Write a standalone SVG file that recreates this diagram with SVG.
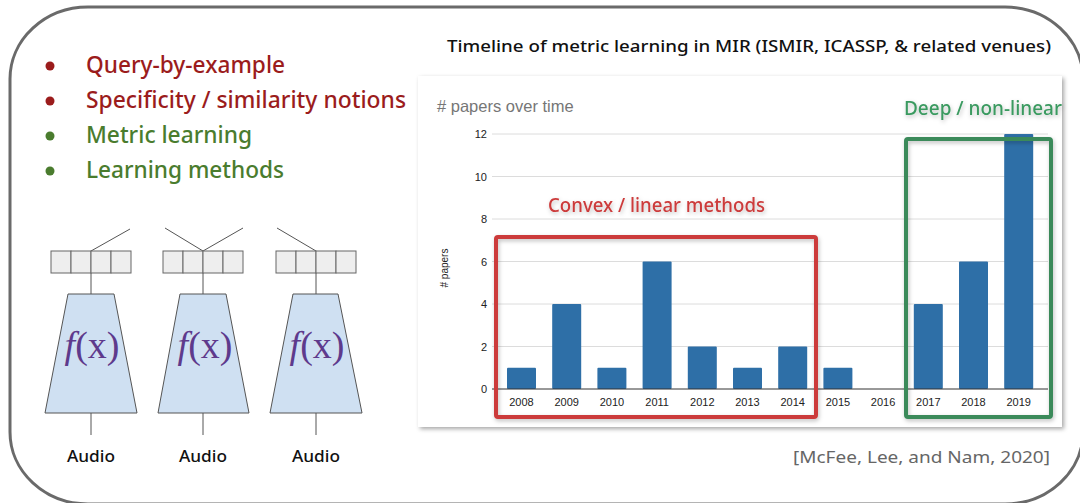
<svg xmlns="http://www.w3.org/2000/svg" width="1080" height="503" viewBox="0 0 1080 503">
  <style>
    .slide { font-family: "Noto Sans", "Open Sans", "Liberation Sans", sans-serif; font-weight: 500; }
    .bullet-red { fill: #9b1c1c; font-size: 23px; }
    .bullet-green { fill: #4a7c2e; font-size: 23px; }
    .title { fill: #111; font-size: 17px; }
    .cite { fill: #666; font-size: 17px; font-weight: 400; }
    .vec { fill: #eeeeee; stroke: #666; stroke-width: 1; }
    .trap { fill: #cfe0f2; stroke: #555; stroke-width: 1; }
    .wire { stroke: #555; stroke-width: 1; fill: none; }
    .fx { fill: #5e3a8c; font-family: "Liberation Serif", "DejaVu Serif", serif; font-size: 38px; text-anchor: middle; }
    .audio { fill: #111; font-size: 17px; text-anchor: middle; }
    .grid { stroke: #dcdcdc; stroke-width: 1; }
    .axis { stroke: #333; stroke-width: 1; }
    .ytick { fill: #222; font-family: "Liberation Sans", Arial, sans-serif; font-size: 11px; text-anchor: end; }
    .xtick { fill: #222; font-family: "Liberation Sans", Arial, sans-serif; font-size: 11px; text-anchor: middle; }
    .bar { fill: #2e6fa7; }
    .era { font-size: 19px; }
  </style>
  <defs>
    <filter id="cardShadow" x="-5%" y="-5%" width="110%" height="112%">
      <feDropShadow dx="2" dy="2" stdDeviation="2" flood-color="#000" flood-opacity="0.35"/>
    </filter>
    <filter id="glow" x="-10%" y="-30%" width="120%" height="160%">
      <feDropShadow dx="1" dy="2" stdDeviation="2" flood-color="#000" flood-opacity="0.25"/>
    </filter>
  </defs>

  <rect width="1080" height="503" fill="#ffffff"/>

  <!-- outer slide frame -->
  <rect x="10" y="7" width="1073" height="497" rx="78" ry="72" fill="none" stroke="#6a6a6a" stroke-width="3"/>

  <!-- bullet list -->
  <g id="bullets" class="slide">
    <circle cx="50" cy="66" r="4.5" fill="#9b1c1c"/>
    <text class="bullet-red" x="86" y="73" textLength="199" lengthAdjust="spacingAndGlyphs">Query-by-example</text>
    <circle cx="50" cy="101" r="4.5" fill="#9b1c1c"/>
    <text class="bullet-red" x="86" y="108" textLength="320" lengthAdjust="spacingAndGlyphs">Specificity / similarity notions</text>
    <circle cx="50" cy="136" r="4.5" fill="#4a7c2e"/>
    <text class="bullet-green" x="86" y="143" textLength="166" lengthAdjust="spacingAndGlyphs">Metric learning</text>
    <circle cx="50" cy="171" r="4.5" fill="#4a7c2e"/>
    <text class="bullet-green" x="86" y="178" textLength="198" lengthAdjust="spacingAndGlyphs">Learning methods</text>
  </g>

  <!-- embedding networks -->
  <g id="connectors">
    <line class="wire" x1="91" y1="251" x2="130" y2="229"/>
    <line class="wire" x1="91" y1="273" x2="91" y2="294"/>
    <line class="wire" x1="91" y1="413" x2="91" y2="435"/>
    <line class="wire" x1="203" y1="251" x2="165" y2="228"/>
    <line class="wire" x1="203" y1="251" x2="243" y2="228"/>
    <line class="wire" x1="203" y1="273" x2="203" y2="294"/>
    <line class="wire" x1="203" y1="413" x2="203" y2="435"/>
    <line class="wire" x1="316" y1="251" x2="277" y2="228"/>
    <line class="wire" x1="316" y1="273" x2="316" y2="294"/>
    <line class="wire" x1="316" y1="413" x2="316" y2="435"/>
  </g>

  <g id="net1" class="slide">
    <rect class="vec" x="51" y="251" width="20" height="22"/>
    <rect class="vec" x="71" y="251" width="20" height="22"/>
    <rect class="vec" x="91" y="251" width="20" height="22"/>
    <rect class="vec" x="111" y="251" width="20" height="22"/>
    <polygon class="trap" points="68,294 114,294 137,413 45,413"/>
    <text class="fx" x="92" y="358"><tspan font-style="italic">f</tspan>(x)</text>
    <text class="audio" x="91" y="462" textLength="48" lengthAdjust="spacingAndGlyphs">Audio</text>
  </g>

  <g id="net2" class="slide">
    <rect class="vec" x="163" y="251" width="20" height="22"/>
    <rect class="vec" x="183" y="251" width="20" height="22"/>
    <rect class="vec" x="203" y="251" width="20" height="22"/>
    <rect class="vec" x="223" y="251" width="20" height="22"/>
    <polygon class="trap" points="180,294 226,294 249,413 158,413"/>
    <text class="fx" x="205" y="358"><tspan font-style="italic">f</tspan>(x)</text>
    <text class="audio" x="203" y="462" textLength="48" lengthAdjust="spacingAndGlyphs">Audio</text>
  </g>

  <g id="net3" class="slide">
    <rect class="vec" x="276" y="251" width="20" height="22"/>
    <rect class="vec" x="296" y="251" width="20" height="22"/>
    <rect class="vec" x="316" y="251" width="20" height="22"/>
    <rect class="vec" x="336" y="251" width="20" height="22"/>
    <polygon class="trap" points="293,294 338,294 362,413 270,413"/>
    <text class="fx" x="317" y="358"><tspan font-style="italic">f</tspan>(x)</text>
    <text class="audio" x="316" y="462" textLength="48" lengthAdjust="spacingAndGlyphs">Audio</text>
  </g>

  <!-- chart title -->
  <text class="slide title" x="447" y="52" textLength="604" lengthAdjust="spacingAndGlyphs">Timeline of metric learning in MIR (ISMIR, ICASSP, &amp; related venues)</text>

  <!-- chart card -->
  <g id="chart">
    <rect x="418" y="76" width="644" height="351" fill="#ffffff" filter="url(#cardShadow)"/>
    <text x="437" y="112" fill="#767676" font-family="Liberation Sans, Arial, sans-serif" font-size="16.5">
      # papers over time</text>

    <!-- gridlines -->
    <line class="grid" x1="492" y1="134" x2="1048" y2="134"/>
    <line class="grid" x1="492" y1="176.5" x2="1048" y2="176.5"/>
    <line class="grid" x1="492" y1="219" x2="1048" y2="219"/>
    <line class="grid" x1="492" y1="261.5" x2="1048" y2="261.5"/>
    <line class="grid" x1="492" y1="304" x2="1048" y2="304"/>
    <line class="grid" x1="492" y1="346.5" x2="1048" y2="346.5"/>

    <!-- y ticks -->
    <text class="ytick" x="487" y="138">12</text>
    <text class="ytick" x="487" y="180.5">10</text>
    <text class="ytick" x="487" y="223">8</text>
    <text class="ytick" x="487" y="265.5">6</text>
    <text class="ytick" x="487" y="308">4</text>
    <text class="ytick" x="487" y="350.5">2</text>
    <text class="ytick" x="487" y="393">0</text>
    <text x="448" y="268" transform="rotate(-90 448 268)" fill="#222" font-family="Liberation Sans, Arial, sans-serif" font-size="10" text-anchor="middle"># papers</text>

    <!-- bars -->
    <rect class="bar" x="507" y="367.75" width="29" height="21.25" rx="1"/>
    <rect class="bar" x="552.2" y="304" width="29" height="85" rx="1"/>
    <rect class="bar" x="597.4" y="367.75" width="29" height="21.25" rx="1"/>
    <rect class="bar" x="642.6" y="261.5" width="29" height="127.5" rx="1"/>
    <rect class="bar" x="687.8" y="346.5" width="29" height="42.5" rx="1"/>
    <rect class="bar" x="733" y="367.75" width="29" height="21.25" rx="1"/>
    <rect class="bar" x="778.2" y="346.5" width="29" height="42.5" rx="1"/>
    <rect class="bar" x="823.4" y="367.75" width="29" height="21.25" rx="1"/>
    <rect class="bar" x="913.8" y="304" width="29" height="85" rx="1"/>
    <rect class="bar" x="959" y="261.5" width="29" height="127.5" rx="1"/>
    <rect class="bar" x="1004.2" y="134" width="29" height="255" rx="1"/>

    <line class="axis" x1="492" y1="389" x2="1048" y2="389"/>

    <!-- x ticks -->
    <text class="xtick" x="521.5" y="406">2008</text>
    <text class="xtick" x="566.7" y="406">2009</text>
    <text class="xtick" x="611.9" y="406">2010</text>
    <text class="xtick" x="657.1" y="406">2011</text>
    <text class="xtick" x="702.3" y="406">2012</text>
    <text class="xtick" x="747.5" y="406">2013</text>
    <text class="xtick" x="792.7" y="406">2014</text>
    <text class="xtick" x="837.9" y="406">2015</text>
    <text class="xtick" x="883.1" y="406">2016</text>
    <text class="xtick" x="928.3" y="406">2017</text>
    <text class="xtick" x="973.5" y="406">2018</text>
    <text class="xtick" x="1018.7" y="406">2019</text>
  </g>

  <!-- era highlights -->
  <g id="convex" class="slide">
    <rect x="496" y="237" width="320" height="180" rx="2" fill="none" stroke="#cc3a3a" stroke-width="4" filter="url(#glow)"/>
    <text class="era" x="548" y="212" fill="#cc3a3a" textLength="217" lengthAdjust="spacingAndGlyphs" filter="url(#glow)">Convex / linear methods</text>
  </g>
  <g id="deep" class="slide">
    <rect x="906" y="139" width="145" height="278" rx="2" fill="none" stroke="#3b8a5a" stroke-width="4" filter="url(#glow)"/>
    <text class="era" x="904" y="115" fill="#3b9a60" textLength="158" lengthAdjust="spacingAndGlyphs" filter="url(#glow)">Deep / non-linear</text>
  </g>

  <!-- citation -->
  <text class="slide cite" x="793" y="463" textLength="257" lengthAdjust="spacingAndGlyphs">[McFee, Lee, and Nam, 2020]</text>
</svg>
